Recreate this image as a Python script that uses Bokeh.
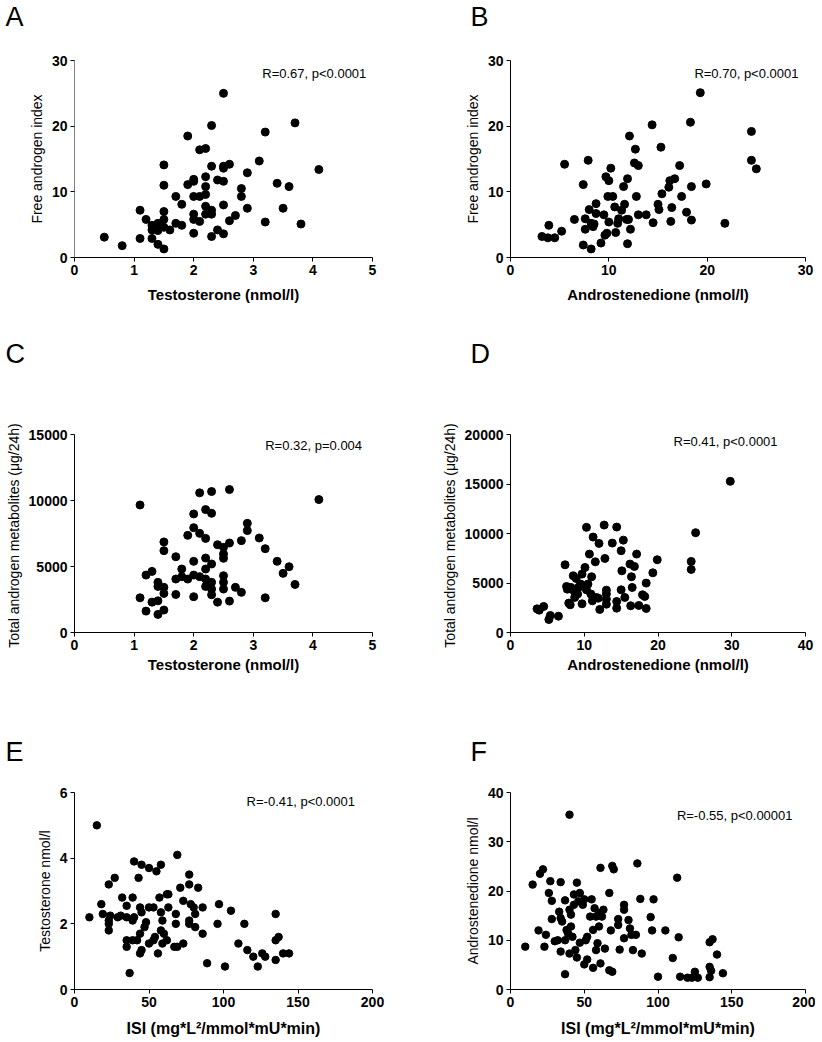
from bokeh.plotting import figure
from bokeh.layouts import column, row
from bokeh.models import Label, FixedTicker, Range1d
from bokeh.embed import file_html
from bokeh.resources import INLINE

FONT = "Liberation Sans"

# ---------------- data ----------------
a_testosterone = [0.5, 0.8, 1.1, 1.1, 1.2, 1.3, 1.3, 1.3, 1.4, 1.4, 1.4, 1.5, 1.5, 1.5, 1.5, 1.5, 1.5, 1.6,
                  1.7, 1.7, 1.8, 1.8, 1.9, 1.9, 2.0, 2.0, 2.0, 2.0, 2.0, 2.0, 2.1, 2.1, 2.1, 2.2, 2.2, 2.2,
                  2.2, 2.2, 2.2, 2.3, 2.3, 2.3, 2.3, 2.3, 2.4, 2.4, 2.5, 2.5, 2.5, 2.5, 2.5, 2.5, 2.6, 2.6,
                  2.7, 2.8, 2.8, 2.9, 2.9, 3.1, 3.2, 3.2, 3.4, 3.5, 3.6, 3.7, 3.8, 4.1]
a_fai = [3.1, 1.8, 7.2, 2.9, 5.8, 4.9, 4.2, 2.9, 5.2, 4.1, 2.0, 14.1, 11.0, 7.0, 5.8, 4.6, 1.3, 4.2,
         9.3, 5.2, 4.9, 8.1, 18.5, 11.1, 11.9, 11.6, 9.3, 6.6, 5.8, 3.7, 16.4, 9.3, 5.5, 16.6, 12.3, 10.8,
         9.6, 7.8, 6.6, 20.1, 13.9, 7.2, 6.6, 3.2, 11.8, 4.2, 25.0, 13.9, 13.6, 11.6, 8.0, 3.6, 14.2, 5.6,
         6.4, 10.5, 9.3, 12.9, 7.5, 14.7, 19.1, 5.4, 11.3, 7.5, 10.8, 20.5, 5.1, 13.4]

b_androstenedione = [3.2, 3.8, 3.9, 4.5, 5.2, 5.5, 6.5, 7.4, 7.4, 7.6, 7.6, 7.9, 8.0, 8.2, 8.2, 8.4, 8.5, 8.7,
                     8.7, 9.2, 9.5, 9.6, 9.7, 9.8, 9.9, 10.0, 10.0, 10.2, 10.4, 10.6, 10.7, 10.9, 11.0, 11.3,
                     11.5, 11.6, 11.8, 11.9, 11.9, 12.0, 12.1, 12.2, 12.6, 12.7, 12.8, 13.0, 13.0, 13.8, 14.4,
                     14.5, 15.0, 15.1, 15.3, 15.4, 16.1, 16.2, 16.3, 16.4, 16.7, 17.2, 17.4, 17.9, 18.3, 18.4,
                     18.4, 19.3, 19.9, 21.8, 24.5, 24.5, 25.0]
b_fai = [3.2, 3.0, 4.9, 3.0, 4.0, 14.2, 5.8, 11.1, 1.9, 5.9, 4.3, 14.8, 7.3, 5.2, 1.3, 4.7, 5.1, 8.2,
         6.7, 2.2, 6.5, 3.4, 12.3, 3.7, 9.3, 5.4, 11.7, 13.6, 9.3, 7.7, 3.8, 5.2, 5.9, 7.2,
         10.8, 8.1, 5.8, 2.1, 12.0, 5.8, 18.5, 4.3, 14.4, 16.5, 9.3, 14.0, 6.5, 6.5, 20.2,
         5.3, 8.1, 7.3, 16.8, 9.7, 10.7, 11.7, 5.5, 7.6, 12.0, 14.0, 9.3, 6.9, 20.6, 10.8,
         5.7, 25.1, 11.2, 5.2, 19.2, 14.8, 13.5]

c_testosterone = [1.1, 1.1, 1.2, 1.2, 1.3, 1.3, 1.4, 1.4, 1.4, 1.4, 1.5, 1.5, 1.5, 1.5, 1.5, 1.7, 1.7, 1.7,
                  1.8, 1.8, 1.9, 1.9, 2.0, 2.0, 2.0, 2.0, 2.0, 2.1, 2.1, 2.1, 2.2, 2.2, 2.2, 2.2, 2.2, 2.2,
                  2.3, 2.3, 2.3, 2.3, 2.3, 2.3, 2.4, 2.4, 2.5, 2.5, 2.5, 2.5, 2.5, 2.5, 2.6, 2.6, 2.6, 2.7,
                  2.8, 2.8, 2.9, 2.9, 3.1, 3.2, 3.2, 3.4, 3.5, 3.6, 3.7, 4.1]
c_metabolites = [9660, 2630, 4350, 1620, 4630, 2300, 3800, 3490, 2400, 1370, 6860, 6200, 3420, 2960, 1700,
                 5740, 4050, 2880, 4810, 4230, 7360, 4050, 8980, 7940, 5390, 4350, 2710, 10580, 7510, 4230,
                 9310, 7130, 5640, 4810, 4050, 3490, 10680, 9030, 5190, 3800, 3290, 2860, 6650, 2300, 6450,
                 5950, 5620, 4300, 3800, 3290, 10830, 6780, 2380, 3420, 6960, 3040, 8270, 7720, 7160, 6350,
                 2630, 5390, 4480, 4980, 3640, 10070]

d_androstenedione = [3.6, 3.9, 4.5, 5.2, 5.4, 6.5, 7.4, 7.6, 7.7, 7.9, 8.1, 8.2, 8.5, 8.6, 8.7, 8.9, 9.1, 9.2,
                     9.5, 9.7, 9.7, 10.1, 10.3, 10.3, 10.5, 10.7, 10.9, 11.0, 11.1, 11.2, 11.5, 11.6, 11.9,
                     12.0, 12.1, 12.7, 12.8, 13.0, 13.0, 13.0, 13.0, 13.8, 14.4, 14.4, 14.4, 15.0, 15.0, 15.1,
                     15.3, 15.5, 16.2, 16.3, 16.4, 16.5, 16.8, 17.1, 17.4, 17.9, 18.2, 18.4, 18.4, 19.3, 19.9,
                     24.5, 24.5, 25.1, 29.8]
d_metabolites = [2390, 2260, 2630, 1310, 1720, 1650, 6840, 4650, 4380, 2970, 2800, 4550, 5730, 4210, 3540,
                 5460, 3880, 4550, 4890, 2900, 5900, 6570, 10620, 4310, 4890, 7920, 3880, 5630, 3200, 9640,
                 7140, 3540, 3470, 9000, 2330, 10850, 7480, 4280, 3880, 3370, 2860, 9030, 10650, 3130, 2460,
                 8260, 4310, 6230, 9330, 3540, 6910, 2700, 5630, 4550, 6670, 7920, 2730, 3810, 3640, 4990,
                 2430, 6030, 7350, 7180, 6370, 10080, 15270]

e_isi = [10, 15, 18, 19, 23, 23, 23, 23, 27, 24, 29, 32, 31, 35, 35, 35, 35, 37, 39, 39,
         40, 40, 39, 42, 43, 44, 44, 44, 45, 45, 45, 47, 48, 50, 50, 50, 53, 55, 53, 54,
         56, 57, 58, 58, 58, 59, 59, 60, 62, 62, 63, 63, 68, 68, 67, 69, 69, 71, 73, 73,
         77, 77, 77, 77, 78, 80, 81, 81, 83, 86, 86, 89, 96, 97, 101, 105, 110, 114, 116, 120,
         123, 126, 128, 135, 135, 137, 135, 140, 144]
e_testosterone = [2.2, 5.0, 2.6, 2.3, 2.1, 2.0, 1.8, 3.2, 3.4, 2.25, 2.2, 2.8, 2.25, 2.2, 1.5, 1.3, 2.55, 0.5, 2.1, 2.8,
                  3.9, 2.2, 1.5, 1.5, 3.4, 2.5, 1.7, 1.1, 1.2, 3.8, 2.35, 1.9, 2.05, 3.7, 2.5, 1.4, 1.5, 3.6, 2.5, 1.6,
                  1.1, 2.8, 2.35, 3.8, 1.8, 2.1, 1.4, 1.7, 1.5, 2.9, 2.9, 2.5, 2.3, 2.0, 1.3, 1.3, 4.1, 3.1, 2.7, 1.4,
                  3.5, 3.2, 2.1, 2.0, 2.6, 2.5, 1.9, 2.3, 3.1, 2.5, 1.7, 0.8, 2.0, 2.6, 0.7, 2.4, 1.4, 2.0, 1.2, 1.0,
                  0.7, 1.1, 1.0, 2.3, 1.5, 1.6, 0.9, 1.1, 1.1]

f_isi = [10, 15, 19, 20, 22, 23, 24, 27, 26, 28, 28, 30, 32, 34, 33, 34, 34, 35, 37, 37,
         37, 38, 39, 40, 40, 41, 41, 42, 43, 44, 43, 45, 45, 46, 47, 47, 49, 50, 50, 51,
         52, 52, 54, 55, 56, 56, 57, 58, 58, 59, 60, 60, 61, 61, 62, 63, 64, 67, 67, 68,
         69, 69, 70, 73, 73, 74, 77, 77, 77, 80, 81, 82, 83, 85, 86, 88, 89, 95, 96, 97,
         100, 105, 110, 113, 114, 115, 120, 123, 125, 127, 135, 137, 135, 136, 135, 140, 144, 40]
f_androstenedione = [8.7, 21.3, 12.0, 23.5, 24.4, 8.7, 11.1, 22.0, 19.6, 18.0, 14.3, 9.8, 10.0, 21.8, 15.8, 14.5, 7.7, 13.8, 10.0, 18.1,
                     3.1, 12.1, 11.4, 7.3, 16.2, 15.2, 12.8, 10.7, 19.3, 8.0, 17.2, 6.5, 21.7, 17.9, 19.6, 9.5, 17.2, 18.3, 5.1, 10.0,
                     6.1, 10.7, 14.8, 18.3, 4.4, 12.1, 16.5, 14.8, 8.0, 9.4, 12.8, 15.5, 24.7, 5.3, 14.8, 16.2, 8.3, 19.6, 3.9, 12.0,
                     25.1, 3.6, 24.4, 14.3, 13.1, 8.1, 17.2, 16.2, 10.4, 14.1, 12.4, 11.1, 8.0, 11.1, 25.6, 18.4, 7.3, 14.7, 12.0, 18.3,
                     2.6, 12.0, 6.4, 22.7, 10.6, 2.6, 2.4, 2.4, 3.6, 2.4, 9.6, 10.2, 4.6, 3.8, 2.5, 7.1, 3.3, 35.5]

ticks_t = [0, 1, 2, 3, 4, 5]
ticks_fai = [0, 10, 20, 30]
ticks_b_x = [0, 10, 20, 30]
ticks_c_y = [0, 5000, 10000, 15000]
ticks_d_x = [0, 10, 20, 30, 40]
ticks_d_y = [0, 5000, 10000, 15000, 20000]
ticks_isi = [0, 50, 100, 150, 200]
ticks_e_y = [0, 2, 4, 6]
ticks_f_y = [0, 10, 20, 30, 40]

annot = ["R=0.67, p<0.0001", "R=0.70, p<0.0001", "R=0.32, p=0.004",
         "R=0.41, p<0.0001", "R=-0.41, p<0.0001", "R=-0.55, p<0.00001"]
letters = ["A", "B", "C", "D", "E", "F"]
label_tot = "Total androgen metabolites  (\u03bcg/24h)"
label_isi = "ISI (mg*L\u00b2/mmol*mU*min)"

LEFT_W, RIGHT_W = 419, 396
COLS = {True: (LEFT_W, 74, 47), False: (RIGHT_W, 91, 10)}
# (figure height, top border, bottom border) for each panel row
ROWS = {0: (290, 20, 73), 1: (343, 59, 86), 2: (272, 22, 53)}
# strip above each row that holds the panel letters: (height, letter centre from strip top)
STRIPS = {0: (40, 16.0), 1: (45, 23.0), 2: (52, 33.5)}


def letter_strip(left_letter, right_letter, idx):
    h, mid = STRIPS[idx]
    w = LEFT_W + RIGHT_W
    s = figure(width=w, height=h, output_backend="svg", toolbar_location=None,
               x_range=Range1d(0, w), y_range=Range1d(0, h),
               min_border_left=0, min_border_right=0, min_border_top=0, min_border_bottom=0)
    s.axis.visible = False
    s.grid.visible = False
    s.outline_line_color = None
    for txt, px in ((left_letter, 5), (right_letter, LEFT_W + 51)):
        s.add_layout(Label(x=px, y=h - mid, text=txt, text_font=FONT, text_font_size="27px",
                           text_align="left", text_baseline="middle", text_color="black"))
    return s


def panel(x, y, xmax, ymax, xt, yt, xlabel, ylabel, note, note_xy,
          left_col, row_idx, dot=8, xfont="15px", tickfont="14px", yaxis_color="black",
          xlabel_standoff=8):
    w, bl, br = COLS[left_col]
    h, bt, bb = ROWS[row_idx]
    p = figure(width=w, height=h, output_backend="svg", toolbar_location=None,
               x_range=Range1d(0, xmax), y_range=Range1d(0, ymax),
               min_border_left=bl, min_border_right=br, min_border_top=bt, min_border_bottom=bb)
    p.outline_line_color = None
    p.grid.visible = False
    p.scatter(x, y, size=dot, color="black", marker="circle")
    p.xaxis.ticker = FixedTicker(ticks=xt)
    p.yaxis.ticker = FixedTicker(ticks=yt)
    for ax in (p.xaxis[0], p.yaxis[0]):
        ax.axis_line_color = "black"
        ax.major_tick_line_color = "black"
        ax.minor_tick_line_color = None
        ax.major_tick_out = 4
        ax.major_tick_in = 0
        ax.major_label_text_font = FONT
        ax.major_label_text_font_style = "bold"
        ax.major_label_text_font_size = tickfont
        ax.major_label_text_color = "black"
        ax.axis_label_text_font = FONT
        ax.axis_label_text_color = "black"
    p.yaxis.axis_line_color = yaxis_color
    p.xaxis.major_label_standoff = 3
    p.yaxis.major_label_standoff = 3
    p.xaxis.axis_label = xlabel
    p.xaxis.axis_label_text_font_style = "bold"
    p.xaxis.axis_label_text_font_size = xfont
    p.xaxis.axis_label_standoff = xlabel_standoff
    p.yaxis.axis_label = ylabel
    p.yaxis.axis_label_text_font_style = "normal"
    p.yaxis.axis_label_text_font_size = "14px"
    p.yaxis.axis_label_standoff = 4
    p.add_layout(Label(x=note_xy[0], y=note_xy[1], text=note, text_font=FONT,
                       text_font_size="13px", text_align="left", text_baseline="middle",
                       text_color="black"))
    return p


pA = panel(a_testosterone, a_fai, 5, 30, ticks_t, ticks_fai, "Testosterone (nmol/l)",
           "Free androgen index", annot[0], (3.15, 28.0), True, 0, yaxis_color="#808080")
pB = panel(b_androstenedione, b_fai, 30, 30, ticks_b_x, ticks_fai, "Androstenedione (nmol/l)",
           "Free androgen index", annot[1], (18.7, 28.0), False, 0)
pC = panel(c_testosterone, c_metabolites, 5, 15000, ticks_t, ticks_c_y, "Testosterone (nmol/l)",
           label_tot, annot[2], (3.2, 14200), True, 1, xlabel_standoff=3)
pD = panel(d_androstenedione, d_metabolites, 40, 20000, ticks_d_x, ticks_d_y, "Androstenedione (nmol/l)",
           label_tot, annot[3], (22.1, 19300), False, 1, xlabel_standoff=3)
pE = panel(e_isi, e_testosterone, 200, 6, ticks_isi, ticks_e_y, label_isi,
           "Testosterone nmol/l", annot[4], (115.5, 5.74), True, 2, dot=7.5, xfont="16px",
           xlabel_standoff=10)
pF = panel(f_isi, f_androstenedione, 200, 40, ticks_isi, ticks_f_y, label_isi,
           "Androstenedione nmol/l", annot[5], (112.8, 35.3), False, 2, dot=7.5, xfont="16px",
           xlabel_standoff=10)

layout = column(
    letter_strip(letters[0], letters[1], 0), row(pA, pB),
    letter_strip(letters[2], letters[3], 1), row(pC, pD),
    letter_strip(letters[4], letters[5], 2), row(pE, pF),
)
open("out.html", "w").write(file_html(layout, INLINE))
